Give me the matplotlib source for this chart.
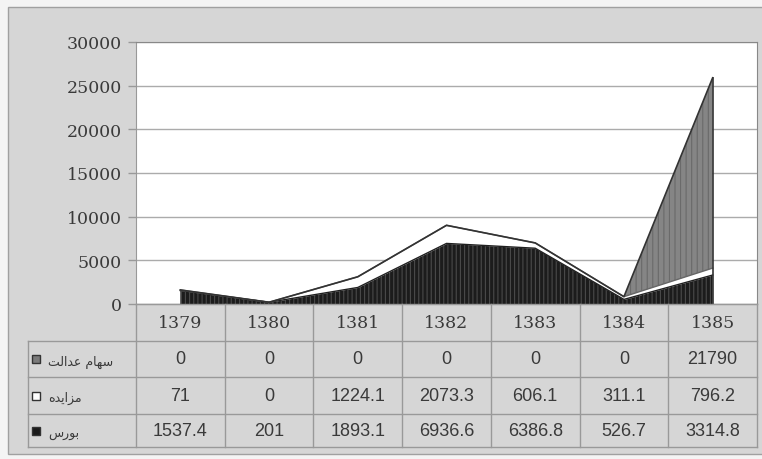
import numpy as np
import matplotlib
matplotlib.use("Agg")
import matplotlib.pyplot as plt
import matplotlib.transforms as mtransforms
from matplotlib.patches import Rectangle
from matplotlib.lines import Line2D

# ---------------- data ----------------
years = ['1379', '1380', '1381', '1382', '1383', '1384', '1385']
bourse = [1537.4, 201, 1893.1, 6936.6, 6386.8, 526.7, 3314.8]      # بورس
auction = [71, 0, 1224.1, 2073.3, 606.1, 311.1, 796.2]             # مزایده
edalat = [0, 0, 0, 0, 0, 0, 21790]                                 # سهام عدالت
y_ticks = [0, 5000, 10000, 15000, 20000, 25000, 30000]

# row labels: Persian, written with presentation forms in visual order
# (matplotlib has no Arabic shaping / RTL)
lab_edalat = '\uFE96\uFEDF\uFE8D\uFEAA\uFECB \uFEE1\uFE8E\uFEEC\uFEB3'   # سهام عدالت
lab_auction = '\uFEE9\uFEAA\uFEF3\uFE8D\uFEB0\uFEE3'                    # مزایده
lab_bourse = '\uFEB1\uFEAD\uFEEE\uFE91'                                 # بورس

table_rows = [
    (lab_edalat, edalat, '#7a7a7a'),
    (lab_auction, auction, 'white'),
    (lab_bourse, bourse, '#1a1a1a'),
]

# ---------------- figure ----------------
W, H = 762, 460
fig = plt.figure(figsize=(W / 100, H / 100), dpi=100)
fig.patch.set_facecolor('#f4f4f4')

def fy(py):
    return 1 - py / H

# gray frame
fig.patches.append(Rectangle((8 / W, fy(455)), (770 - 8) / W, (455 - 8) / H,
                             transform=fig.transFigure, fc='#d6d6d6', ec='#a0a0a0',
                             lw=1.0, zorder=-10))

ax_l, ax_r, ax_t, ax_b = 136, 757, 43, 305
ax = fig.add_axes([ax_l / W, fy(ax_b), (ax_r - ax_l) / W, (ax_b - ax_t) / H])
ax.set_facecolor('white')
x = np.arange(len(years))
ax.set_xlim(-0.5, len(years) - 0.5)
ax.set_ylim(0, 30000)

b = np.array(bourse)
m = b + np.array(auction)
t = m + np.array(edalat)

plt.rcParams['hatch.linewidth'] = 0.8
ax.fill_between(x, 0, b, facecolor='#1c1c1c', edgecolor='#4a4a4a', hatch='||||', lw=0, zorder=3)
ax.fill_between(x, b, m, facecolor='white', edgecolor='white', lw=0, zorder=3)
ax.fill_between(x, m, t, facecolor='#858585', edgecolor='#6a6a6a', hatch='|||', lw=0, zorder=3)
ax.plot(x, b, color='#202020', lw=1.0, zorder=4)
ax.plot(x, m, color='#666666', lw=1.0, zorder=4)
ax.plot(x, t, color='#333333', lw=1.2, zorder=4)
ax.plot([x[-1], x[-1]], [0, t[-1]], color='#333333', lw=1.2, zorder=4)

ax.set_yticks(y_ticks)
ax.set_yticklabels([str(v) for v in y_ticks], family='DejaVu Serif', fontsize=12.5, color='#3a3a3a')
ax.yaxis.grid(True, color='#ababab', lw=1.0)
ax.set_axisbelow(True)
ax.tick_params(axis='y', length=6, width=1, color='#999999', pad=4)
ax.set_xticks([])
for s in ['top', 'right']:
    ax.spines[s].set_color('#888888')
for s in ['left', 'bottom']:
    ax.spines[s].set_color('#999999')

# ---------------- data table ----------------
tr = mtransforms.blended_transform_factory(ax.transData, fig.transFigure)
col_w = (ax_r - ax_l) / len(years)
x_lab = -0.5 - (ax_l - 28) / col_w
row_lines = [305, 342, 378, 415, 448]
line_kw = dict(color='#999999', lw=1.0, transform=tr, clip_on=False)

fig.add_artist(Line2D([-0.5, 6.5], [fy(305), fy(305)], **line_kw))
for yl in row_lines[1:]:
    fig.add_artist(Line2D([x_lab, 6.5], [fy(yl), fy(yl)], **line_kw))
for i in range(len(years) + 1):
    fig.add_artist(Line2D([i - 0.5, i - 0.5], [fy(305), fy(448)], **line_kw))
fig.add_artist(Line2D([x_lab, x_lab], [fy(342), fy(448)], **line_kw))

for i, yr in enumerate(years):
    fig.text(i, fy(324), yr, transform=tr, ha='center', va='center',
             family='DejaVu Serif', fontsize=12.5, color='#3a3a3a')

for r, (lab, vals, col) in enumerate(table_rows):
    yc = fy((row_lines[r + 1] + row_lines[r + 2]) / 2)
    for i, v in enumerate(vals):
        txt = ('%g' % v)
        fig.text(i, yc, txt, transform=tr, ha='center', va='center',
                 family='Liberation Sans', fontsize=13, color='#3a3a3a')
    fig.patches.append(Rectangle((32 / W, yc - 4 / H), 8 / W, 8 / H, transform=fig.transFigure,
                                 fc=col, ec='#333333', lw=1.0, zorder=5))
    fig.text(48 / W, yc - 2 / H, lab, ha='left', va='center',
             family=['DejaVu Sans'], fontsize=9, color='#3a3a3a')

fig.savefig('out.png', dpi=100, facecolor=fig.get_facecolor())
